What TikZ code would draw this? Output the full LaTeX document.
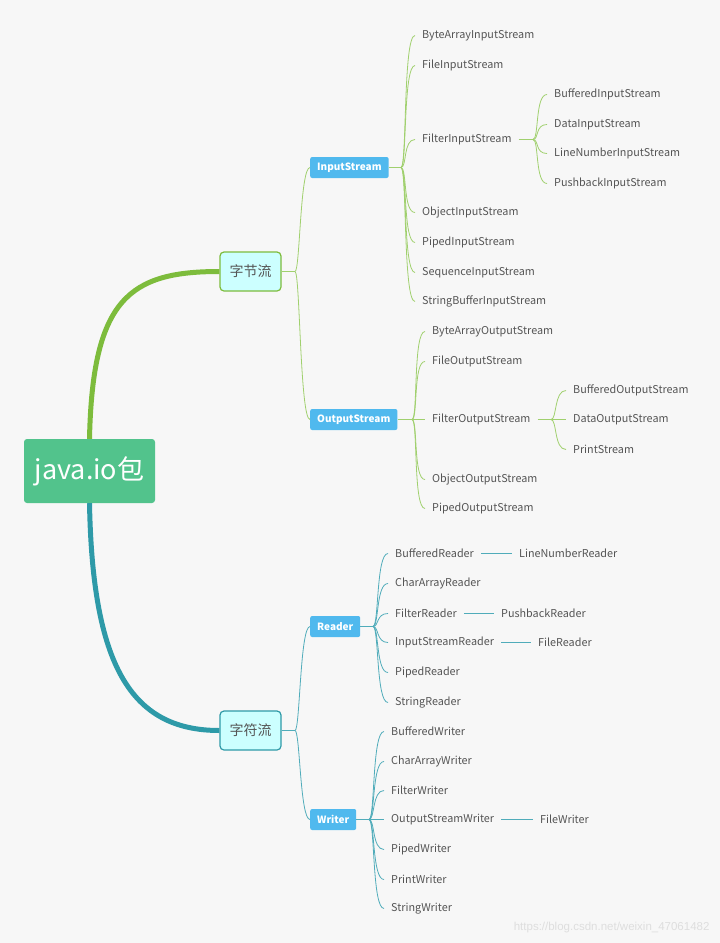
\documentclass[tikz,border=0pt]{standalone}
\usepackage{fontspec}
\setmainfont{Noto Sans CJK SC}
\newfontfamily\wmfont{Liberation Sans}
\definecolor{bgGrey}{RGB}{247,247,247}
\definecolor{rootGreen}{RGB}{82,195,140}
\definecolor{byteGreen}{RGB}{125,188,60}
\definecolor{charTeal}{RGB}{46,154,168}
\definecolor{lineGreen}{RGB}{160,208,110}
\definecolor{lineTeal}{RGB}{80,172,186}
\definecolor{catFill}{RGB}{204,255,255}
\definecolor{subBlue}{RGB}{80,185,238}
\definecolor{leafText}{RGB}{85,85,85}

\begin{document}
\begin{tikzpicture}[x=1pt, y=-1pt,
    root/.style={fill=rootGreen, text=white, rounded corners=3pt, minimum width=131pt, minimum height=64pt, font=\fontsize{27}{30}\selectfont},
    cat/.style={draw, line width=1.2pt, fill=catFill, rounded corners=4pt, minimum width=61pt, minimum height=39pt, text=leafText, font=\fontsize{14}{16}\selectfont},
    sub/.style={fill=subBlue, text=white, rounded corners=2pt, anchor=west, inner xsep=7pt, inner ysep=0pt, minimum height=21pt, font=\bfseries\fontsize{10}{12}\selectfont},
    leaf/.style={anchor=west, inner xsep=7pt, inner ysep=2pt, yshift=-1.5pt, text=leafText, font=\fontsize{10.8}{12}\selectfont},
    gline/.style={lineGreen, line width=0.8pt},
    tline/.style={lineTeal, line width=0.8pt}]
  \fill[bgGrey] (0,0) rectangle (720,943);

  \node[root] (root) at (89.5,471) {java.io包};
  \node[cat, draw=byteGreen] (bytes) at (250.5,271.5) {字节流};
  \node[cat, draw=charTeal] (chars) at (250.5,730.5) {字符流};
  \draw[byteGreen, line width=5pt] (root.north) .. controls +(3,-140) and +(-90,0) .. (bytes.west);
  \draw[charTeal, line width=5pt] (root.south) .. controls +(3,160) and +(-90,0) .. (chars.west);

  \node[sub] (instream) at (310,167.5) {InputStream};
  \node[sub] (outstream) at (310,419.5) {OutputStream};
  \node[sub] (reader) at (310,626.5) {Reader};
  \node[sub] (writer) at (310,819.5) {Writer};

  \coordinate (jbytes) at (295,271.5);
  \coordinate (jchars) at (295,730.5);
  \draw[gline] (bytes.east) -- (jbytes);
  \draw[tline] (chars.east) -- (jchars);
  \foreach \nm in {instream, outstream}
    \draw[gline] (jbytes) .. controls +(5,0) and +(-10,0) .. (\nm.west);
  \foreach \nm in {reader, writer}
    \draw[tline] (jchars) .. controls +(5,0) and +(-10,0) .. (\nm.west);

  % byte streams
  \coordinate (jin) at (401,167.5);
  \draw[gline] (instream.east) -- (jin);
  \foreach \nm/\y in {ByteArrayInputStream/34, FileInputStream/64, FilterInputStream/138, ObjectInputStream/211, PipedInputStream/241, SequenceInputStream/271, StringBufferInputStream/300} {
    \node[leaf] (\nm) at (415,\y) {\nm};
    \draw[gline] (jin) .. controls +(6,0) and +(-12,0) .. (\nm.west);
  }
  \coordinate (jfis) at (533,139.5);
  \draw[gline] (FilterInputStream.east) -- (jfis);
  \foreach \nm/\y in {BufferedInputStream/93, DataInputStream/123, LineNumberInputStream/152, PushbackInputStream/182} {
    \node[leaf] (\nm) at (547,\y) {\nm};
    \draw[gline] (jfis) .. controls +(6,0) and +(-12,0) .. (\nm.west);
  }

  \coordinate (jout) at (412,419.5);
  \draw[gline] (outstream.east) -- (jout);
  \foreach \nm/\y in {ByteArrayOutputStream/330, FileOutputStream/360, FilterOutputStream/418, ObjectOutputStream/478, PipedOutputStream/507} {
    \node[leaf] (\nm) at (425,\y) {\nm};
    \draw[gline] (jout) .. controls +(6,0) and +(-12,0) .. (\nm.west);
  }
  \coordinate (jfos) at (551,419.5);
  \draw[gline] (FilterOutputStream.east) -- (jfos);
  \foreach \nm/\y in {BufferedOutputStream/389, DataOutputStream/418, PrintStream/448} {
    \node[leaf] (\nm) at (566,\y) {\nm};
    \draw[gline] (jfos) .. controls +(6,0) and +(-12,0) .. (\nm.west);
  }

  % char streams
  \coordinate (jrd) at (373,626.5);
  \draw[tline] (reader.east) -- (jrd);
  \foreach \nm/\y in {BufferedReader/552, CharArrayReader/582, FilterReader/612, InputStreamReader/641, PipedReader/671, StringReader/701} {
    \node[leaf] (\nm) at (388,\y) {\nm};
    \draw[tline] (jrd) .. controls +(6,0) and +(-12,0) .. (\nm.west);
  }
  \node[leaf] (LineNumberReader) at (512,552) {LineNumberReader};
  \node[leaf] (PushbackReader) at (494,612) {PushbackReader};
  \node[leaf] (FileReader) at (531,641) {FileReader};
  \draw[tline] (BufferedReader) -- (LineNumberReader);
  \draw[tline] (FilterReader) -- (PushbackReader);
  \draw[tline] (InputStreamReader) -- (FileReader);

  \coordinate (jwr) at (369,819.5);
  \draw[tline] (writer.east) -- (jwr);
  \foreach \nm/\y in {BufferedWriter/730, CharArrayWriter/760, FilterWriter/789, OutputStreamWriter/818, PipedWriter/848, PrintWriter/878, StringWriter/907} {
    \node[leaf] (\nm) at (384,\y) {\nm};
    \draw[tline] (jwr) .. controls +(6,0) and +(-12,0) .. (\nm.west);
  }
  \node[leaf] (FileWriter) at (533,818) {FileWriter};
  \draw[tline] (OutputStreamWriter) -- (FileWriter);

  \node[anchor=east, text={rgb,255:red,222;green,222;blue,222}, font=\wmfont\fontsize{11.5}{13}\selectfont] (watermark) at (713,928) {https://blog.csdn.net/weixin\_47061482};
\end{tikzpicture}
\end{document}
